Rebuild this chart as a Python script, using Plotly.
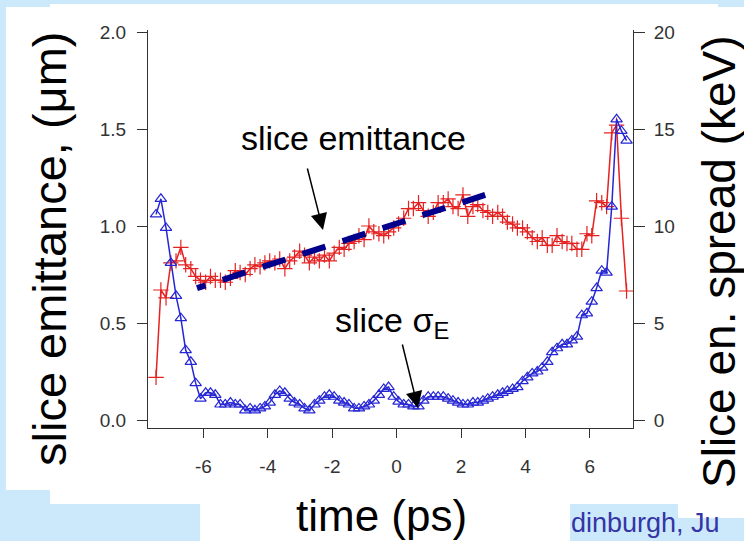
import plotly.graph_objects as go

# ---- data ----
time_ps = [-7.47, -7.32, -7.16, -7.01, -6.85, -6.70, -6.55, -6.39, -6.24, -6.09,
           -5.93, -5.78, -5.63, -5.47, -5.32, -5.16, -5.01, -4.86, -4.70, -4.55,
           -4.40, -4.24, -4.09, -3.94, -3.78, -3.63, -3.47, -3.32, -3.17, -3.01,
           -2.86, -2.71, -2.55, -2.40, -2.24, -2.09, -1.94, -1.78, -1.63, -1.48,
           -1.32, -1.17, -1.01, -0.86, -0.71, -0.55, -0.40, -0.25, -0.09, 0.06,
           0.22, 0.37, 0.52, 0.68, 0.83, 0.98, 1.14, 1.29, 1.45, 1.60,
           1.75, 1.91, 2.06, 2.21, 2.37, 2.52, 2.68, 2.83, 2.98, 3.14,
           3.29, 3.44, 3.60, 3.75, 3.91, 4.06, 4.21, 4.37, 4.52, 4.68,
           4.83, 4.98, 5.14, 5.29, 5.44, 5.60, 5.75, 5.91, 6.06, 6.21,
           6.37, 6.52, 6.68, 6.83, 6.98, 7.14]

emittance_um = [0.22, 0.67, 0.63, 0.81, 0.82, 0.89, 0.80, 0.78, 0.74, 0.72,
                0.71, 0.74, 0.72, 0.72, 0.71, 0.73, 0.77, 0.76, 0.75, 0.78,
                0.80, 0.79, 0.81, 0.82, 0.81, 0.83, 0.78, 0.82, 0.84, 0.87,
                0.85, 0.81, 0.84, 0.82, 0.85, 0.82, 0.86, 0.89, 0.88, 0.91,
                0.92, 0.95, 0.93, 1.00, 0.97, 0.96, 0.95, 0.97, 0.99, 1.01,
                1.04, 1.09, 1.09, 1.12, 1.08, 1.05, 1.07, 1.12, 1.12, 1.14,
                1.10, 1.09, 1.16, 1.05, 1.10, 1.11, 1.08, 1.07, 1.05, 1.07,
                1.05, 1.02, 1.01, 0.99, 0.99, 0.97, 0.94, 0.92, 0.94, 0.90,
                0.90, 0.95, 0.92, 0.91, 0.91, 0.88, 0.88, 0.96, 0.95, 1.13,
                1.12, 1.10, 1.48, 1.52, 1.04, 0.665]

spread_keV = [10.6, 11.4, 9.9, 8.1, 6.4, 5.25, 3.6, 3.0, 1.9, 1.1,
              1.4, 1.4, 1.3, 0.8, 0.8, 0.9, 0.8, 0.8, 0.5, 0.6,
              0.5, 0.6, 0.7, 0.9, 1.3, 1.5, 1.4, 1.1, 0.9, 0.8,
              0.6, 0.5, 0.8, 1.0, 1.2, 1.3, 1.2, 1.0, 0.9, 0.8,
              0.6, 0.6, 0.7, 0.8, 1.0, 1.3, 1.6, 1.7, 1.2, 0.95,
              0.8, 0.8, 0.7, 0.7, 1.0, 1.2, 1.2, 1.2, 1.2, 1.1,
              1.0, 0.9, 0.8, 0.8, 0.9, 0.9, 1.0, 1.1, 1.2, 1.3,
              1.4, 1.5, 1.6, 1.7, 2.0, 2.2, 2.4, 2.5, 2.7, 3.0,
              3.5, 3.7, 3.9, 3.9, 4.1, 4.3, 5.4, 5.5, 6.1, 6.8,
              7.7, 7.6, 11.0, 15.5, 14.9, 14.4]

fit_time = [-6.2, 2.75]
fit_emittance = [0.68, 1.16]

x_ticks = [-6, -4, -2, 0, 2, 4, 6]
x_tick_text = ["-6", "-4", "-2", "0", "2", "4", "6"]
y_ticks = [0.0, 0.5, 1.0, 1.5, 2.0]
y_tick_text = ["0.0", "0.5", "1.0", "1.5", "2.0"]
y2_ticks = [0, 5, 10, 15, 20]

# ---- layout geometry (pixels) ----
W, H = 744, 541
L, R, T, B = 148, 111, 30, 113
PW, PH = W - L - R, H - T - B


def fx(p):
    return (p - L) / PW


def fy(p):
    return (H - B - p) / PH


FONT = "Liberation Sans, Arial, sans-serif"
BG_BLUE = "#cce9fc"

fig = go.Figure()

fig.add_trace(go.Scatter(
    x=time_ps, y=emittance_um, mode="lines+markers", name="slice emittance",
    line=dict(color="#e52222", width=1.5),
    marker=dict(symbol="cross-thin-open", size=11,
                line=dict(color="#f04a4a", width=1.2)),
    yaxis="y", showlegend=False,
))
fig.add_trace(go.Scatter(
    x=time_ps, y=spread_keV, mode="lines+markers", name="slice energy spread",
    line=dict(color="#2626d4", width=1.5),
    marker=dict(symbol="triangle-up-open", size=10,
                line=dict(color="#5555ee", width=1.2)),
    yaxis="y2", showlegend=False,
))
fig.add_trace(go.Scatter(
    x=fit_time, y=fit_emittance, mode="lines",
    line=dict(color="#00008c", width=6,
              dash="9px,18px,24px,18px,24px,18px,24px,18px,24px,18px,24px,18px,24px,18px,24px,18px"),
    yaxis="y", showlegend=False, hoverinfo="skip",
))

shapes = []
for (x0, y0, x1, y1) in [(0, 0, 744, 4), (0, 0, 50, 7), (718, 0, 744, 7),
                         (0, 0, 6, 541), (0, 490, 50, 541), (0, 504, 200, 541),
                         (570, 504, 678, 541), (678, 518, 744, 541)]:
    shapes.append(dict(type="rect", xref="paper", yref="paper",
                       x0=fx(x0), x1=fx(x1), y0=fy(y1), y1=fy(y0),
                       fillcolor=BG_BLUE, line=dict(width=0), layer="below"))

annotations = [
    dict(text="slice emittance, (μm)", xref="paper", yref="paper",
         x=fx(49), y=fy(249), textangle=-90, showarrow=False,
         xanchor="center", yanchor="middle",
         font=dict(family=FONT, size=47, color="black")),
    dict(text="Slice en. spread (keV)", xref="paper", yref="paper",
         x=fx(719), y=fy(262), textangle=-90, showarrow=False,
         xanchor="center", yanchor="middle",
         font=dict(family=FONT, size=46, color="black")),
    dict(text="time (ps)", xref="paper", yref="paper",
         x=fx(381), y=fy(515), showarrow=False,
         xanchor="center", yanchor="middle",
         font=dict(family=FONT, size=44, color="black")),
    dict(text="slice emittance", xref="paper", yref="paper",
         x=fx(353), y=fy(138), showarrow=False,
         xanchor="center", yanchor="middle",
         font=dict(family=FONT, size=34, color="black")),
    dict(text="slice σ<sub>E</sub>", xref="paper", yref="paper",
         x=fx(333), y=fy(322), showarrow=False,
         xanchor="left", yanchor="middle",
         font=dict(family=FONT, size=34, color="black")),
    dict(text="", xref="paper", yref="paper", x=fx(323), y=fy(230),
         ax=-16, ay=-63, showarrow=True, arrowhead=2, arrowsize=2.2,
         arrowwidth=1.5, arrowcolor="black"),
    dict(text="", xref="paper", yref="paper", x=fx(418), y=fy(408),
         ax=-16, ay=-65, showarrow=True, arrowhead=2, arrowsize=2.2,
         arrowwidth=1.5, arrowcolor="black"),
    dict(text="dinburgh, Ju", xref="paper", yref="paper",
         x=fx(569), y=fy(523), showarrow=False,
         xanchor="left", yanchor="middle",
         font=dict(family=FONT, size=27, color="#3535a5")),
]

tickfont = dict(family=FONT, size=19, color="#333333")

fig.update_layout(
    width=W, height=H,
    margin=dict(l=L, r=R, t=T, b=B, pad=0),
    paper_bgcolor="white", plot_bgcolor="white",
    showlegend=False,
    shapes=shapes, annotations=annotations,
    xaxis=dict(range=[-7.72, 7.34], tickvals=x_ticks, ticktext=x_tick_text,
               ticks="outside", ticklen=9, tickcolor="#333", tickwidth=1,
               showline=True, linecolor="#333", linewidth=1,
               showgrid=False, zeroline=False, tickfont=tickfont,
               ticklabelstandoff=12),
    yaxis=dict(range=[-0.0412, 2.0103], tickvals=y_ticks, ticktext=y_tick_text,
               ticks="outside", ticklen=10, tickcolor="#333", tickwidth=1,
               showline=True, linecolor="#333", linewidth=1,
               showgrid=False, zeroline=False, tickfont=tickfont,
               ticklabelstandoff=7),
    yaxis2=dict(range=[-0.412, 20.103], tickvals=y2_ticks, overlaying="y",
                side="right", anchor="x",
                ticks="outside", ticklen=11, tickcolor="#333", tickwidth=1,
                showline=True, linecolor="#333", linewidth=1,
                showgrid=False, zeroline=False, tickfont=tickfont,
                ticklabelstandoff=5),
)

fig.write_html("out.html")
